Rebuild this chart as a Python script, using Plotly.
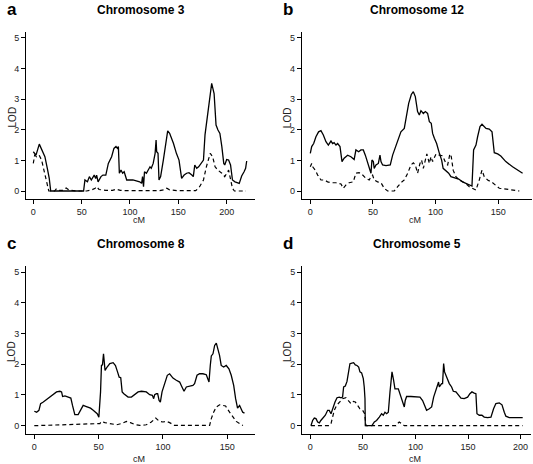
import plotly.graph_objects as go

W, H = 533, 464

# ---------------- Data ----------------
# Panel a: Chromosome 3
a_solid_cm = [0, 2.8, 6.2, 9.7, 12, 14.5, 16.5, 18, 30, 52, 53.4, 56, 58, 60, 63, 64.5, 65.5, 67, 70, 72, 75, 77.6, 81, 83.4, 85.5, 87, 88, 89, 90.7, 92.4, 94, 96.6, 103, 110, 112, 113, 114, 115, 117, 119, 120.7, 122, 124, 126, 127, 127.6, 129, 130, 131.7, 134.5, 137, 139, 141, 145, 148, 150.7, 153.4, 156, 158.6, 161, 164, 165.5, 167, 169, 171, 174, 176, 177.6, 180, 182, 184.5, 187, 189, 191, 193, 195, 197, 198, 200, 202, 204, 206, 208.6, 213, 215.5, 218, 219.6, 220.7]
a_solid_lod = [1.28, 1.17, 1.53, 1.28, 1.12, 0.74, 0.41, 0, 0, 0, 0.36, 0.3, 0.47, 0.36, 0.52, 0.41, 0.52, 0.3, 0.47, 0.52, 0.52, 0.9, 1.12, 1.39, 1.45, 1.39, 1.45, 0.58, 0.68, 0.58, 0.63, 0.36, 0.36, 0.3, 0.25, 0.47, 0.14, 0.63, 0.58, 0.68, 0.79, 0.74, 0.9, 1.23, 1.66, 1.28, 1.23, 0.36, 0.47, 1.01, 1.61, 1.96, 1.88, 1.55, 1.23, 1.01, 0.41, 0.52, 0.58, 0.6, 0.52, 0.47, 0.85, 0.74, 0.79, 0.9, 1.01, 1.83, 2.42, 3.08, 3.51, 3.18, 2.15, 1.99, 1.88, 1.45, 0.9, 0.85, 1.03, 1.01, 0.85, 0.36, 0.3, 0.25, 0.49, 0.63, 0.74, 0.98]
a_dash_cm = [0, 1.4, 3.4, 6, 8.6, 11, 13.8, 16, 22, 24, 27, 30, 34, 37, 45, 55, 60, 64, 65.5, 68, 75, 82, 86, 90, 100, 130, 135, 138, 141, 150, 168, 172, 176, 179, 183, 185.5, 188, 191, 195, 198, 202, 203.5, 206, 208, 220]
a_dash_lod = [0.9, 1.17, 1.12, 1.17, 1.01, 0.68, 0.3, 0, 0, 0.08, 0.02, 0.02, 0.1, 0.03, 0, 0, 0.03, 0.09, 0.14, 0.05, 0.02, 0.02, 0.06, 0.02, 0.01, 0.01, 0.04, 0.09, 0.04, 0.01, 0.01, 0.14, 0.36, 0.79, 1.23, 1.12, 0.79, 0.68, 0.58, 0.47, 0.68, 0.47, 0.09, 0, 0]

# Panel b: Chromosome 12
b_solid_cm = [0, 1.1, 2.7, 4.5, 6.6, 8.5, 10.4, 12.5, 14.4, 16.5, 17.8, 19, 20.5, 21.8, 23.7, 25.3, 27, 29.8, 32.4, 35, 36.4, 38.6, 40.4, 42.3, 43.9, 45.7, 47, 48.4, 49.2, 50.3, 51, 52.4, 54.3, 55.6, 56.4, 57.7, 60.4, 63.8, 65.7, 68.4, 70.5, 72.3, 75, 76.3, 78.5, 80.6, 82.2, 83.8, 85.6, 87, 88.3, 90.2, 91.8, 93.6, 95, 96.5, 97.6, 99, 100.8, 103, 104.8, 106, 108, 110.4, 112.2, 115.7, 118.4, 121.5, 124, 127.4, 129, 130.3, 132.2, 133.5, 135.4, 137, 138.8, 140.2, 142.8, 145, 146.8, 149.5, 152, 156, 161.4, 166.8, 169.4]
b_solid_lod = [1.23, 1.45, 1.55, 1.77, 1.93, 1.97, 1.83, 1.61, 1.5, 1.63, 1.55, 1.58, 1.5, 1.55, 1.45, 0.96, 1.07, 1.17, 1.12, 1.03, 1.34, 1.28, 1.34, 1.34, 1.17, 0.9, 0.79, 0.58, 1.01, 0.96, 0.74, 0.85, 0.9, 1.17, 0.96, 0.85, 0.83, 0.85, 1.17, 1.5, 1.72, 1.93, 2.04, 2.32, 2.86, 3.15, 3.24, 3.08, 2.59, 2.48, 2.62, 2.53, 2.59, 2.53, 2.26, 2.21, 1.88, 1.72, 1.55, 1.23, 1.01, 0.74, 0.68, 0.58, 0.47, 0.41, 0.39, 0.3, 0.25, 0.17, 0.16, 1.34, 1.5, 1.77, 2.1, 2.18, 2.1, 2.04, 2.02, 1.93, 1.25, 1.21, 1.14, 0.96, 0.79, 0.63, 0.58]
b_dash_cm = [0, 1.1, 1.9, 4, 5.9, 8.5, 11.2, 13.8, 16.5, 20.5, 24.5, 26.3, 28.5, 31, 34.3, 36.4, 39, 41.8, 44.4, 47, 48.4, 49.7, 51, 53.7, 56.4, 59, 61.7, 67, 69.7, 72.3, 75, 77.7, 80.3, 82.2, 83.8, 85.6, 87.5, 88.8, 90.2, 91.8, 93, 95, 96.3, 97.6, 99, 100.3, 103, 105.6, 108.2, 109.6, 111.4, 112.5, 114, 116.2, 118.9, 124, 126.9, 129.5, 132.2, 134.8, 137, 138.8, 141.5, 145.5, 150.8, 154.8, 161.4, 166.8]
b_dash_lod = [0.79, 0.9, 0.79, 0.68, 0.52, 0.36, 0.36, 0.3, 0.27, 0.27, 0.23, 0.09, 0.2, 0.27, 0.3, 0.58, 0.6, 0.52, 0.41, 0.36, 0.47, 0.52, 0.36, 0.3, 0.27, 0.09, 0, 0, 0.14, 0.27, 0.36, 0.58, 0.85, 0.92, 0.85, 0.58, 0.9, 1.01, 0.74, 1.03, 1.21, 0.9, 1.12, 0.96, 1.07, 1.21, 1.17, 1.15, 0.9, 0.85, 1.21, 1.12, 0.68, 0.47, 0.36, 0.25, 0.14, 0.09, 0.03, 0.36, 0.68, 0.47, 0.36, 0.27, 0.09, 0.07, 0.03, 0]

# Panel c: Chromosome 8
c_solid_cm = [0, 1.8, 3.6, 4.9, 7, 9.6, 12.2, 14.7, 17.3, 19.9, 21.2, 22, 23.8, 26.4, 28.4, 29.7, 31.5, 34.1, 36, 38, 40, 41.9, 43.7, 45.8, 47.6, 48.9, 50.2, 51.5, 52.2, 53, 53.8, 54.3, 55, 56.6, 58.7, 61.3, 63.1, 64.7, 66, 67.2, 68.3, 69.6, 71.1, 72.9, 75.5, 78.1, 80.7, 83.3, 87.1, 89.7, 91.8, 92.8, 93.6, 94.9, 95.9, 97, 98, 99.3, 101.4, 103.4, 105.2, 107.8, 110.4, 113, 114.8, 116.4, 118.2, 120.8, 123.3, 124.6, 126.5, 128.5, 131.1, 133.7, 135, 135.8, 136.8, 137.6, 138.9, 140.2, 141.5, 142.7, 144, 145.3, 147.2, 149.2, 151.3, 153.1, 155, 156.5, 158, 159.6, 160.9, 162, 163.4]
c_solid_lod = [0.47, 0.44, 0.5, 0.72, 0.77, 0.85, 0.93, 1.02, 1.1, 1.12, 1.1, 0.95, 0.97, 0.93, 0.9, 0.66, 0.36, 0.36, 0.5, 0.66, 0.63, 0.61, 0.57, 0.5, 0.44, 0.39, 0.28, 1.1, 1.96, 1.98, 2.34, 2.07, 1.8, 1.91, 2.02, 2.05, 1.96, 1.75, 1.58, 1.56, 1.1, 1.04, 0.99, 0.93, 0.93, 1.01, 1.1, 1.12, 1.1, 1.01, 0.99, 0.88, 1.01, 1.04, 1.04, 0.82, 0.77, 1.1, 1.42, 1.64, 1.69, 1.55, 1.48, 1.42, 1.26, 1.12, 1.26, 1.29, 1.31, 1.37, 1.64, 1.69, 1.69, 1.66, 1.48, 1.42, 1.96, 2.27, 2.34, 2.61, 2.69, 2.51, 2.29, 1.96, 1.91, 1.96, 1.85, 1.64, 1.31, 0.88, 0.57, 0.66, 0.55, 0.44, 0.41]
c_dash_cm = [0, 51, 52.2, 54.8, 58.7, 63.9, 67.8, 71.6, 74.7, 78, 82, 87, 91, 94.4, 97, 100, 102.7, 105.2, 109, 136.3, 137.6, 139.4, 141.5, 144, 146.6, 148.7, 151.8, 154.4, 157, 159.6, 162.2]
c_dash_lod = [0, 0.07, 0.14, 0.1, 0.07, 0.03, 0.07, 0.14, 0.1, 0.04, 0.01, 0.03, 0.12, 0.25, 0.15, 0.12, 0.14, 0.1, 0.01, 0.01, 0.23, 0.44, 0.61, 0.68, 0.66, 0.64, 0.44, 0.28, 0.14, 0.07, 0.01]

# Panel d: Chromosome 5
d_solid_cm = [0.6, 2.2, 3.8, 5.4, 7, 8.6, 10, 12.4, 14.3, 16.5, 18, 19.7, 21.2, 23.5, 25.4, 27.6, 29.2, 30.7, 31.7, 33.3, 34.9, 36.1, 37.7, 39.6, 41.2, 42.8, 44.4, 46, 47.2, 48.8, 50.4, 51.3, 52, 52.3, 58.6, 60.9, 63, 65.6, 67.8, 69.4, 71, 72.6, 74.2, 75.8, 77.7, 79.2, 80.5, 83.7, 85.6, 87.8, 89.4, 90.3, 91.6, 95.7, 100.5, 104.3, 106.8, 109, 110.6, 113.2, 115.4, 117.3, 119.5, 121, 122, 122.7, 123.6, 124.9, 125.8, 126.8, 127.7, 129, 130.6, 132.2, 134.4, 136, 138.5, 140.7, 143.3, 146.4, 149.6, 151.8, 153.7, 155.9, 157.5, 158.5, 160.7, 163.2, 165.4, 168.6, 171.8, 174.3, 176.5, 179.7, 182.3, 184.5, 186, 189.2, 194, 202]
d_solid_lod = [0, 0.17, 0.25, 0.23, 0.12, 0.09, 0.17, 0.26, 0.34, 0.5, 0.5, 0.39, 0.55, 0.77, 0.91, 0.93, 0.91, 0.93, 1.26, 1.29, 1.44, 1.75, 2.02, 2.04, 2.05, 1.98, 1.96, 1.91, 1.75, 1.72, 1.53, 1.26, 0.88, 0, 0, 0.12, 0.17, 0.28, 0.39, 0.34, 0.44, 0.39, 0.44, 1.1, 1.75, 1.48, 1.2, 1.2, 0.99, 0.72, 0.61, 0.82, 0.95, 0.95, 0.95, 0.93, 0.82, 0.66, 0.5, 0.55, 0.61, 0.93, 1.15, 1.26, 1.42, 1.26, 1.31, 1.37, 1.37, 2.02, 1.75, 1.62, 1.53, 1.37, 1.26, 1.12, 1.1, 0.99, 0.9, 0.88, 0.93, 1.04, 1.1, 1.06, 1.04, 0.39, 0.34, 0.34, 0.28, 0.26, 0.28, 0.55, 0.72, 0.74, 0.68, 0.44, 0.31, 0.26, 0.26, 0.26]
d_dash_cm = [0.6, 18, 19.7, 21.2, 22.8, 25, 27.6, 30.7, 33.9, 36.5, 38.7, 40.9, 42.8, 45, 47.2, 49.8, 51.7, 53, 81.5, 83, 84.6, 86.8, 89.4, 202]
d_dash_lod = [0, 0, 0.07, 0.28, 0.5, 0.66, 0.77, 0.88, 0.91, 0.82, 0.72, 0.79, 0.77, 0.66, 0.55, 0.5, 0.39, 0, 0, 0.07, 0.12, 0.07, 0, 0]

titles = ["Chromosome 3", "Chromosome 12", "Chromosome 8", "Chromosome 5"]
letters = ["a", "b", "c", "d"]
y_ticks = [0, 1, 2, 3, 4, 5]
x_ticks = [[0, 50, 100, 150, 200], [0, 50, 100, 150], [0, 50, 100, 150], [0, 50, 100, 150, 200]]

# ---------------- Layout geometry (pixels) ----------------
x_geom = [
    (26.0, 255.0, [-7.55, 229.3]),
    (301.7, 531.5, [-6.86, 176.5]),
    (26.0, 255.3, [-6.45, 171.8]),
    (302.0, 531.0, [-7.9, 209.9]),
]
y_geom = [(31.6, 199.3), (31.6, 199.3), (265.9, 434.0), (265.9, 434.0)]
cm_offset = [21, 21, 25, 25]
y_range = [-0.27, 5.2]

FONT = "Liberation Sans, Arial, Helvetica, sans-serif"

fig = go.Figure()

panels = [
    (a_solid_cm, a_solid_lod, a_dash_cm, a_dash_lod),
    (b_solid_cm, b_solid_lod, b_dash_cm, b_dash_lod),
    (c_solid_cm, c_solid_lod, c_dash_cm, c_dash_lod),
    (d_solid_cm, d_solid_lod, d_dash_cm, d_dash_lod),
]

annotations = []
layout_axes = {}
for i, (scm, slod, dcm, dlod) in enumerate(panels):
    n = i + 1
    xa = "x" if n == 1 else f"x{n}"
    ya = "y" if n == 1 else f"y{n}"
    fig.add_trace(go.Scatter(x=dcm, y=dlod, mode="lines", xaxis=xa, yaxis=ya,
                             line=dict(color="black", width=1.2, dash="4px,3px"),
                             showlegend=False, hoverinfo="skip"))
    fig.add_trace(go.Scatter(x=scm, y=slod, mode="lines", xaxis=xa, yaxis=ya,
                             line=dict(color="black", width=1.3),
                             showlegend=False, hoverinfo="skip"))
    l, r, xr = x_geom[i]
    t, b = y_geom[i]
    xkey = "xaxis" if n == 1 else f"xaxis{n}"
    ykey = "yaxis" if n == 1 else f"yaxis{n}"
    common = dict(showline=True, linecolor="black", linewidth=1, ticks="outside",
                  ticklen=4, tickwidth=1, tickcolor="black", showgrid=False,
                  zeroline=False, mirror=False, automargin=False,
                  tickfont=dict(family=FONT, size=9, color="#222"))
    layout_axes[xkey] = dict(domain=[l / W, r / W], range=xr, anchor=ya,
                             tickvals=x_ticks[i], **common)
    layout_axes[ykey] = dict(domain=[1 - b / H, 1 - t / H], range=y_range, anchor=xa,
                             tickvals=y_ticks, **common)
    cx = (l + r) / 2
    annotations.append(dict(text=f"<b>{titles[i]}</b>", x=cx / W, y=1 - (t - 21.5) / H,
                            xref="paper", yref="paper", showarrow=False,
                            xanchor="center", yanchor="middle",
                            font=dict(family=FONT, size=12, color="black")))
    annotations.append(dict(text=f"<b>{letters[i]}</b>", x=(l - 21) / W, y=1 - (t - 22) / H,
                            xref="paper", yref="paper", showarrow=False,
                            xanchor="left", yanchor="middle",
                            font=dict(family=FONT, size=17, color="black")))
    annotations.append(dict(text="cM", x=(cx - 2) / W, y=1 - (b + cm_offset[i]) / H,
                            xref="paper", yref="paper", showarrow=False,
                            xanchor="center", yanchor="middle",
                            font=dict(family=FONT, size=9, color="#222")))
    annotations.append(dict(text="LOD", x=(l - 14) / W, y=1 - ((t + b) / 2 + 2) / H,
                            xref="paper", yref="paper", showarrow=False, textangle=-90,
                            xanchor="center", yanchor="middle",
                            font=dict(family=FONT, size=10, color="#222")))

fig.update_layout(width=W, height=H, margin=dict(l=0, r=0, t=0, b=0, autoexpand=False),
                  paper_bgcolor="white", plot_bgcolor="white",
                  annotations=annotations, **layout_axes)

fig.write_html("out.html", config={"displayModeBar": False},
               post_script="document.body.style.margin='0';document.body.style.overflow='hidden';")
